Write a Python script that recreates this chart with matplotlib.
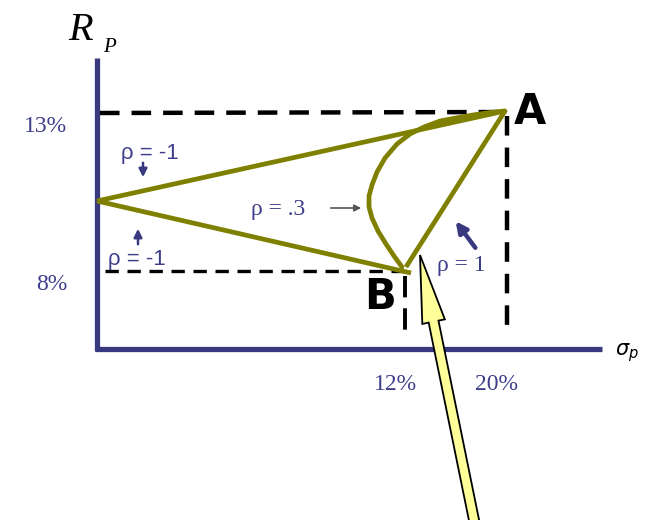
import matplotlib
matplotlib.use("Agg")
import matplotlib.pyplot as plt
from matplotlib.patches import FancyArrow

# Schematic diagram coordinates (the original is not drawn to scale)
origin = (97, 349)
axis_top = 58
axis_right = 602
point_A = (505, 111)
point_B = (407, 270)
point_min = (97, 201)          # zero-risk portfolio (rho = -1)

# rho = .3 curve
curve_x = [402, 394, 386, 378, 372, 369, 369, 372, 377, 385, 397, 410, 424, 440, 456, 473, 490, 505]
curve_y = [267, 256, 244, 231, 218, 207, 196, 185, 172, 158, 144, 134, 127, 121, 118, 115, 112.5, 111]

y_tick_labels = ["13%", "8%"]
y_tick_pos = [113, 271]
x_tick_labels = ["12%", "20%"]
x_tick_pos = [405, 507]

olive = "#808000"
navy = "#39397f"
txt_navy = "#3d3d8a"

fig = plt.figure(figsize=(6.45, 5.2), dpi=100)
ax = fig.add_axes([0, 0, 1, 1])
ax.set_xlim(0, 645)
ax.set_ylim(520, 0)
ax.axis("off")

# axes
ax.plot([origin[0], origin[0]], [axis_top, origin[1] + 2], color=navy, lw=3.8, solid_capstyle="butt")
ax.plot([origin[0] - 2, axis_right], [origin[1], origin[1]], color=navy, lw=3.8, solid_capstyle="butt")

# dashed guides
ax.plot([100, point_A[0]], [y_tick_pos[0], point_A[1] + 1], color="black", lw=3.2, dashes=(4.4, 2.7))
ax.plot([x_tick_pos[1], x_tick_pos[1]], [116, 333], color="black", lw=3.2, dashes=(4.4, 2.7))
ax.plot([105, point_B[0] - 2], [y_tick_pos[1], y_tick_pos[1]], color="black", lw=2.4, dashes=(4.0, 2.6))
ax.plot([x_tick_pos[0], x_tick_pos[0]], [276, 331], color="black", lw=2.8, dashes=(5.5, 2.8))

# frontier lines
lw_f = 3.4
ax.plot([point_min[0], point_A[0]], [point_min[1], point_A[1]], color=olive, lw=lw_f, solid_capstyle="butt")
ax.plot([point_min[0], point_B[0] + 4], [point_min[1], point_B[1] + 3], color=olive, lw=lw_f, solid_capstyle="butt")
ax.plot([point_B[0] - 1, point_A[0]], [point_B[1] - 3, point_A[1]], color=olive, lw=lw_f, solid_capstyle="butt")
ax.plot(curve_x, curve_y, color=olive, lw=lw_f, solid_capstyle="round")

# axis labels
ax.text(68, 40, "R", fontsize=29, family="Liberation Serif", style="italic", color="black")
ax.text(103, 52, "P", fontsize=15, family="Liberation Serif", style="italic", color="black")
ax.text(615, 353, r"$\sigma_p$", fontsize=15, color="black", va="center")

for lab, yp in zip(y_tick_labels, y_tick_pos):
    ax.text(67, yp + 14, lab, fontsize=17, family="Liberation Serif", color=txt_navy, ha="right", va="center")
for lab, xp in zip(x_tick_labels, x_tick_pos):
    ax.text(xp - 10, 385, lab, fontsize=17, family="Liberation Serif", color=txt_navy, ha="center", va="center")

# point labels
ax.text(514, 112, "A", fontsize=30, fontweight="bold", family="DejaVu Sans", color="black", va="center")
ax.text(364, 297, "B", fontsize=30, fontweight="bold", family="DejaVu Sans", color="black", va="center")

# rho labels
ax.text(121, 154, "ρ = -1", fontsize=16, family="Liberation Sans", color=txt_navy, va="center")
ax.text(108, 259, "ρ = -1", fontsize=16, family="Liberation Sans", color=txt_navy, va="center")
ax.text(251, 209, "ρ = .3", fontsize=17, family="Liberation Serif", color=txt_navy, va="center")
ax.text(437, 266, "ρ = 1", fontsize=17, family="Liberation Serif", color=txt_navy, va="center")

# small arrows
ax.annotate("", xy=(143, 180), xytext=(143, 160),
            arrowprops=dict(arrowstyle="-|>", color=navy, lw=1.8, mutation_scale=12))
ax.annotate("", xy=(138, 226), xytext=(138, 247),
            arrowprops=dict(arrowstyle="-|>", color=navy, lw=1.8, mutation_scale=12))
ax.annotate("", xy=(364, 208), xytext=(328, 208),
            arrowprops=dict(arrowstyle="-|>", color="#555555", lw=1.2, mutation_scale=10))
ax.annotate("", xy=(454, 219), xytext=(477, 250),
            arrowprops=dict(arrowstyle="-|>", color=navy, lw=3.2, mutation_scale=16))

# big yellow arrow
tail = (475, 525)
tip = (420, 255)
arr = FancyArrow(tail[0], tail[1], tip[0] - tail[0], tip[1] - tail[1], width=10,
                 head_width=23, head_length=68, length_includes_head=True,
                 facecolor="#ffff99", edgecolor="black", lw=1.3, zorder=5)
ax.add_patch(arr)

fig.savefig("out.png", dpi=100)
